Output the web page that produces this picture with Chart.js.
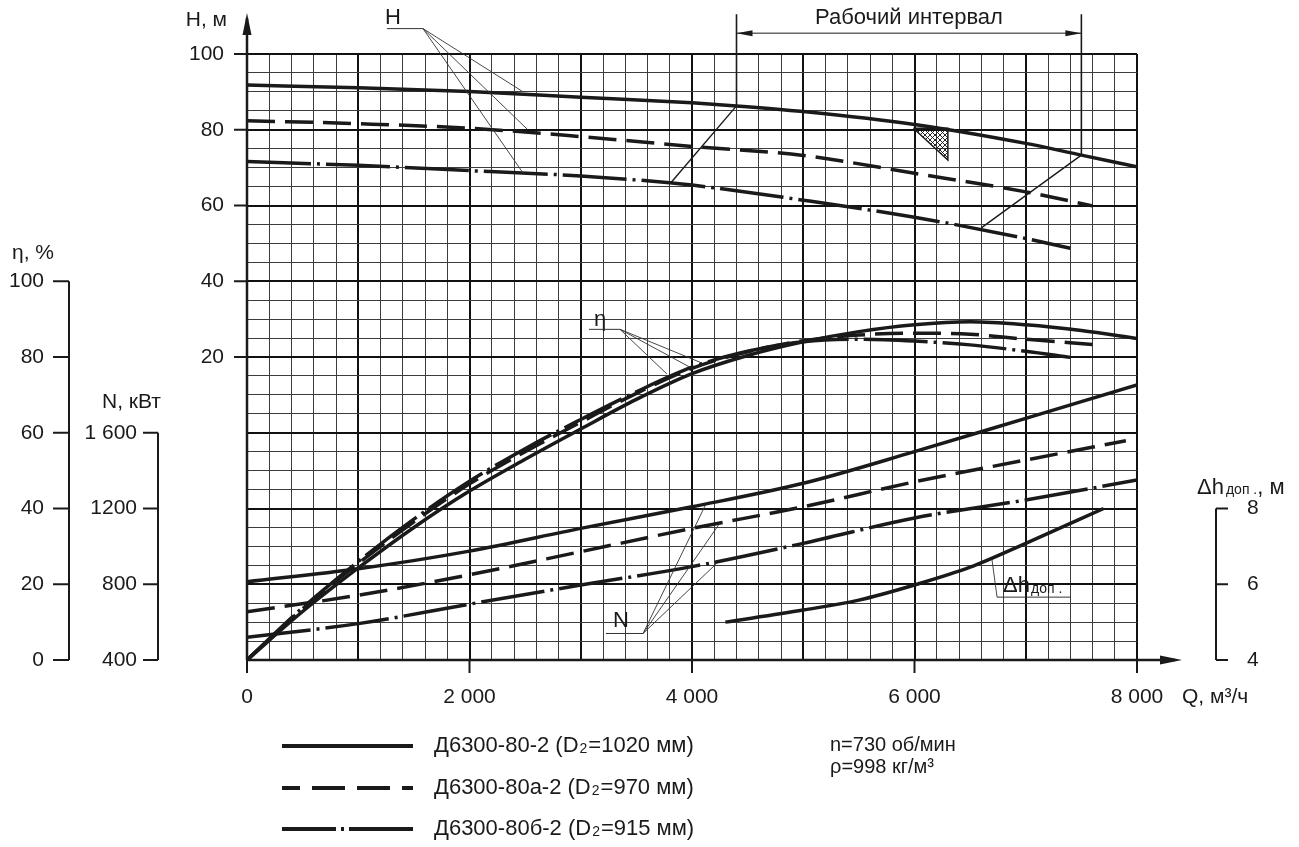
<!DOCTYPE html>
<html>
<head>
<meta charset="utf-8">
<script src="https://cdn.jsdelivr.net/npm/chart.js@4.4.1/dist/chart.umd.min.js"></script>
<style>
  html, body { margin: 0; padding: 0; background: #fff; }
  #wrap { width: 1299px; height: 847px; }
</style>
</head>
<body>
<div id="wrap"><canvas id="chart"></canvas></div>
<script>
// ---- data (Q in м³/ч) ----
const qH1 = [0, 1000, 2000, 3000, 4000, 4400, 5000, 6000, 7000, 7500, 8000];
const hH1 = [91.8, 91.1, 90.1, 88.6, 87.1, 86.3, 84.8, 81.4, 76.4, 73.3, 70.2];
const qH2 = [0, 1000, 2000, 3000, 4000, 5000, 6000, 7000, 7600];
const hH2 = [82.4, 81.6, 80.4, 78.2, 75.6, 73.2, 68.5, 63.6, 59.9];
const qH3 = [0, 1000, 2000, 3000, 3800, 4000, 5000, 6000, 7000, 7400];
const hH3 = [71.6, 70.6, 69.2, 67.8, 66.0, 65.4, 61.4, 56.9, 51.3, 48.7];

const qEta1 = [0, 500, 1000, 1500, 2000, 2500, 3000, 3500, 4000, 4500, 5000, 5500, 6000, 6500, 7000, 7500, 8000];
const eta1  = [0, 12.8, 24.3, 35, 44.6, 53, 61, 68.8, 75.6, 80.4, 84, 86.7, 88.5, 89.3, 88.5, 87, 84.9];
const qEta2 = [0, 500, 1000, 1500, 2000, 2500, 3000, 3500, 4000, 4500, 5000, 5500, 6000, 6500, 7000, 7600];
const eta2  = [0, 13.5, 25.5, 36.5, 46.5, 55, 62.8, 70.4, 77, 81.4, 84.3, 85.8, 86.3, 86, 84.7, 83.3];
const qEta3 = [0, 500, 1000, 1500, 2000, 2500, 3000, 3500, 4000, 4500, 5000, 5500, 6000, 6500, 7000, 7400];
const eta3  = [0, 13.8, 26, 37.2, 47.2, 55.8, 63.5, 70.8, 77.3, 81.5, 84, 84.7, 84.2, 83.2, 81.5, 79.9];

const qN1 = [0, 1000, 2000, 3000, 4000, 5000, 6000, 7000, 8000];
const n1  = [813, 882, 975, 1095, 1209, 1333, 1500, 1676, 1852];
const qN2 = [0, 1000, 2000, 3000, 4000, 5000, 6000, 7000, 7900];
const n2  = [655, 742, 850, 972, 1095, 1209, 1341, 1456, 1558];
const qN3 = [0, 1000, 2000, 3000, 4000, 5000, 6000, 7000, 8000];
const n3  = [520, 592, 695, 796, 893, 1016, 1150, 1245, 1350];

const qDh = [4300, 5000, 5500, 6000, 6500, 7000, 7700];
const dh  = [5.0, 5.32, 5.58, 5.98, 6.45, 7.08, 8.0];

// working interval and its boundary lines (Q, H)
const workQ = [4400, 7500];
const workLeft  = [[4400, 86.3], [3810, 66.0]];
const workRight = [[7500, 73.3], [6600, 54.1]];
const hatch = [[5990, 80.4], [6300, 80.4], [6300, 72.0], [5990, 80.4]];

// tick labels
const xTicks = [0, 2000, 4000, 6000, 8000];
const xLabels = ['0', '2 000', '4 000', '6 000', '8 000'];
const hTicks = [20, 40, 60, 80, 100];
const etaTicks = [0, 20, 40, 60, 80, 100];
const nTicks = [400, 800, 1200, 1600];
const nLabels = ['400', '800', '1200', '1 600'];
const dhTicks = [4, 6, 8];

const legendNames = [['Д6300-80-2 (D', '2', '=1020 мм)'], ['Д6300-80а-2 (D', '2', '=970 мм)'], ['Д6300-80б-2 (D', '2', '=915 мм)']];

// leader labels: text position, underline from/to, targets (all Q, H)
const leaders = [
  { text: 'H', at: [1312, 109.5], line: [[1258, 106.7], [1582, 106.7]], to: [[2472, 90.2], [2517, 80.2], [2481, 68.6]] },
  { text: 'η', at: [3175, 29.8], line: [[3074, 27.3], [3353, 27.3]], to: [[4090, 18.4], [3982, 17.3], [3775, 15.5]] },
  { text: 'N', at: [3362, -49.7], line: [[3227, -53.0], [3560, -53.0]], to: [[4117, -19.3], [4252, -23.8], [4225, -34.4]] }
];

const FONT = '"Liberation Sans", Arial, sans-serif';
const INK = '#1a1a1a';
const DASH = [28, 10];
const DASHDOT = [64, 6, 3, 6];

// crosshatch pattern for the small triangle
const pc = document.createElement('canvas');
pc.width = 5; pc.height = 5;
const pctx = pc.getContext('2d');
pctx.strokeStyle = '#111'; pctx.lineWidth = 0.9;
pctx.beginPath(); pctx.moveTo(0, 0); pctx.lineTo(5, 5); pctx.moveTo(5, 0); pctx.lineTo(0, 5); pctx.stroke();
const hatchPattern = pctx.createPattern(pc, 'repeat');

const pts = (q, v) => q.map((x, i) => ({ x: x, y: v[i] }));
const curve = (q, v, axis, dash) => ({
  data: pts(q, v), yAxisID: axis, borderColor: INK, borderWidth: 3.5,
  borderDash: dash || [], pointRadius: 0, cubicInterpolationMode: 'monotone', fill: false
});
const segment = (p) => ({
  data: p.map(a => ({ x: a[0], y: a[1] })), yAxisID: 'y', borderColor: INK, borderWidth: 1.4,
  pointRadius: 0, tension: 0, fill: false
});

const gridColor = c => (c.tick && c.tick.value % 1000 === 0) ? '#111' : '#3c3c3c';
const gridWidth = c => (c.tick && c.tick.value % 1000 === 0) ? 2 : 1;

const overlay = {
  id: 'overlay',
  afterDraw(chart) {
    const ctx = chart.ctx;
    const sx = chart.scales.x, sy = chart.scales.y;
    const X = v => sx.getPixelForValue(v), Y = v => sy.getPixelForValue(v);
    const ca = chart.chartArea;
    ctx.save();
    ctx.strokeStyle = INK; ctx.fillStyle = INK;

    const line = (x1, y1, x2, y2, w) => {
      ctx.lineWidth = w; ctx.setLineDash([]);
      ctx.beginPath(); ctx.moveTo(x1, y1); ctx.lineTo(x2, y2); ctx.stroke();
    };
    const arrow = (tx, ty, dx, dy, len, half) => {
      const bx = tx - dx * len, by = ty - dy * len;
      ctx.beginPath();
      ctx.moveTo(tx, ty);
      ctx.lineTo(bx - dy * half, by + dx * half);
      ctx.lineTo(bx + dy * half, by - dx * half);
      ctx.closePath(); ctx.fill();
    };
    const text = (s, x, y, size, align) => {
      ctx.font = size + 'px ' + FONT;
      ctx.textAlign = align || 'left'; ctx.textBaseline = 'middle';
      ctx.fillText(s, x, y);
      return ctx.measureText(s).width;
    };

    // main axes with arrows
    line(ca.left, ca.bottom, ca.left, ca.top - 36, 2.5);
    arrow(ca.left, ca.top - 41, 0, -1, 22, 4.5);
    line(ca.left, ca.bottom, ca.right + 38, ca.bottom, 2.5);
    arrow(ca.right + 45, ca.bottom, 1, 0, 22, 4.5);

    // H ticks
    hTicks.forEach(v => {
      line(ca.left - 13, Y(v), ca.left, Y(v), 2);
      text(String(v), ca.left - 23, Y(v), 21, 'right');
    });
    text('H, м', ca.left - 20, 20, 21, 'right');

    // Q ticks
    xTicks.forEach((v, i) => {
      line(X(v), ca.bottom, X(v), ca.bottom + 13, 2);
      text(xLabels[i], X(v), 697, 21, 'center');
    });
    text('Q, м³/ч', ca.right + 45, 697, 21, 'left');

    // η axis (partial)
    const se = chart.scales.yEta;
    const ex = 69;
    line(ex, se.getPixelForValue(0), ex, se.getPixelForValue(100), 2);
    etaTicks.forEach(v => {
      line(ex - 16, se.getPixelForValue(v), ex, se.getPixelForValue(v), 2);
      text(String(v), ex - 25, se.getPixelForValue(v), 21, 'right');
    });
    text('η, %', 12, 253, 21, 'left');

    // N axis (partial)
    const sn = chart.scales.yN;
    const nx = 158;
    line(nx, sn.getPixelForValue(400), nx, sn.getPixelForValue(1600), 2);
    nTicks.forEach((v, i) => {
      line(nx - 15, sn.getPixelForValue(v), nx, sn.getPixelForValue(v), 2);
      text(nLabels[i], nx - 21, sn.getPixelForValue(v), 21, 'right');
    });
    text('N, кВт', 102, 402, 21, 'left');

    // Δh axis (partial, right)
    const sd = chart.scales.yDh;
    const dx = 1216;
    line(dx, sd.getPixelForValue(4), dx, sd.getPixelForValue(8), 2);
    dhTicks.forEach(v => {
      line(dx, sd.getPixelForValue(v), dx + 12, sd.getPixelForValue(v), 2);
      text(String(v), dx + 31, sd.getPixelForValue(v), 21, 'left');
    });
    let tx = 1197;
    tx += text('Δh', tx, 488, 22);
    tx += text('доп .', tx + 2, 490, 14) + 2;
    text(', м', tx, 488, 22);

    // working interval dimension
    const wl = X(workQ[0]), wr = X(workQ[1]);
    const dimY = Y(105.5);
    line(wl, Y(110.5), wl, Y(workLeft[0][1]), 1.6);
    line(wr, Y(110.5), wr, Y(workRight[0][1]), 1.6);
    line(wl, dimY, wr, dimY, 1);
    arrow(wl, dimY, -1, 0, 16, 3);
    arrow(wr, dimY, 1, 0, 16, 3);
    text('Рабочий интервал', (wl + wr) / 2, 18, 22, 'center');

    // leader labels
    leaders.forEach(L => {
      ctx.strokeStyle = '#333';
      text(L.text, X(L.at[0]), Y(L.at[1]), 22, 'center');
      const a = L.line[0], b = L.line[1];
      line(X(a[0]), Y(a[1]), X(b[0]), Y(b[1]), 1);
      L.to.forEach(t => line(X(b[0]), Y(b[1]), X(t[0]), Y(t[1]), 0.9));
    });
    // Δh label with underline
    const ux = X(6742), uy = Y(-43.4);
    let lx = ux + 6;
    lx += text('Δh', lx, uy - 11, 22);
    text('доп .', lx + 1, uy - 8, 14);
    line(ux, uy, X(7398), uy, 1);
    line(ux, uy, X(6697), Y(-33.6), 0.9);

    // legend
    ctx.strokeStyle = INK;
    const rows = [746, 788, 829];
    const lx0 = 282, lx1 = 413;
    ctx.lineWidth = 4;
    ctx.setLineDash([]);
    ctx.beginPath(); ctx.moveTo(lx0, rows[0]); ctx.lineTo(lx1, rows[0]); ctx.stroke();
    ctx.setLineDash([33, 12]); ctx.lineDashOffset = 15;
    ctx.beginPath(); ctx.moveTo(lx0, rows[1]); ctx.lineTo(lx1, rows[1]); ctx.stroke();
    ctx.setLineDash([]); ctx.lineDashOffset = 0;
    ctx.beginPath(); ctx.moveTo(lx0, rows[2]); ctx.lineTo(lx0 + 54, rows[2]);
    ctx.moveTo(lx0 + 59, rows[2]); ctx.lineTo(lx0 + 62, rows[2]);
    ctx.moveTo(lx0 + 67, rows[2]); ctx.lineTo(lx1, rows[2]); ctx.stroke();
    legendNames.forEach((n, i) => {
      let x = 434;
      x += text(n[0], x, rows[i], 22);
      x += text(n[1], x + 1, rows[i] + 3, 14) + 2;
      text(n[2], x, rows[i], 22);
    });
    text('n=730 об/мин', 830, 745, 20);
    text('ρ=998 кг/м³', 830, 767, 20);

    ctx.restore();
  }
};

new Chart(document.getElementById('chart'), {
  type: 'line',
  data: {
    datasets: [
      curve(qH1, hH1, 'y'), curve(qH2, hH2, 'y', DASH), curve(qH3, hH3, 'y', DASHDOT),
      curve(qEta1, eta1, 'yEta'), curve(qEta2, eta2, 'yEta', DASH), curve(qEta3, eta3, 'yEta', DASHDOT),
      curve(qN1, n1, 'yN'), curve(qN2, n2, 'yN', DASH), curve(qN3, n3, 'yN', DASHDOT),
      curve(qDh, dh, 'yDh'),
      segment(workLeft), segment(workRight),
      {
        data: hatch.map(a => ({ x: a[0], y: a[1] })), yAxisID: 'y', borderColor: INK, borderWidth: 1.5,
        backgroundColor: hatchPattern, fill: 'shape', pointRadius: 0, tension: 0
      }
    ]
  },
  options: {
    responsive: true,
    maintainAspectRatio: false,
    animation: false,
    devicePixelRatio: 1,
    layout: { padding: { left: 247, top: 54, right: 162, bottom: 187 } },
    plugins: { legend: { display: false }, tooltip: { enabled: false } },
    scales: {
      x: {
        type: 'linear', min: 0, max: 8000,
        ticks: { display: false, stepSize: 200, autoSkip: false, maxTicksLimit: 100 },
        grid: { color: gridColor, lineWidth: gridWidth, drawTicks: false },
        border: { display: false }
      },
      y: {
        type: 'linear', min: -60, max: 100,
        ticks: { display: false, stepSize: 5, autoSkip: false, maxTicksLimit: 100 },
        grid: {
          color: c => (c.tick && c.tick.value % 20 === 0) ? '#111' : '#3c3c3c',
          lineWidth: c => (c.tick && c.tick.value % 20 === 0) ? 2 : 1,
          drawTicks: false
        },
        border: { display: false }
      },
      yEta: { type: 'linear', display: false, min: 0, max: 160 },
      yN: { type: 'linear', display: false, min: 400, max: 3600 },
      yDh: { type: 'linear', display: false, min: 4, max: 20 }
    }
  },
  plugins: [overlay]
});
</script>
</body>
</html>
